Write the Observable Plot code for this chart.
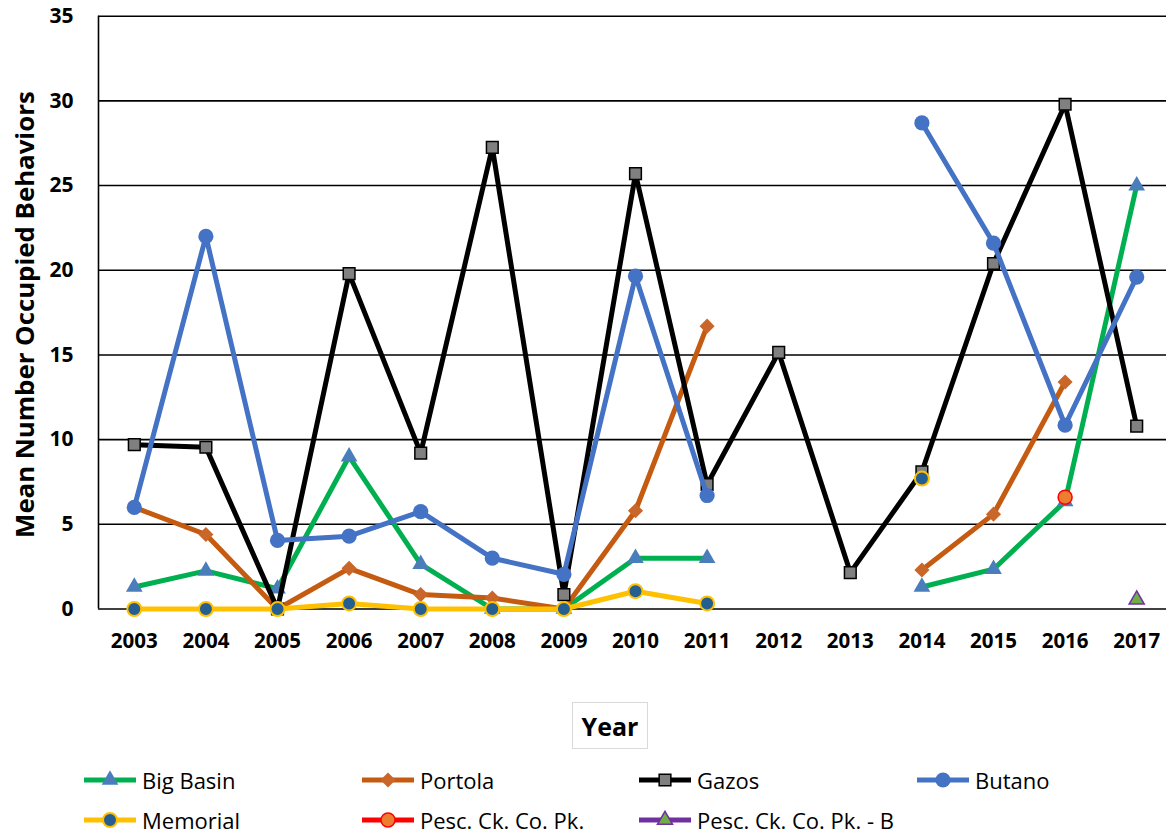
<!DOCTYPE html>
<html>
<head>
<meta charset="utf-8">
<script src="https://cdn.jsdelivr.net/npm/d3@7"></script>
<script src="https://cdn.jsdelivr.net/npm/@observablehq/plot@0.6"></script>
<style>
  html, body { margin: 0; padding: 0; background: #fff; }
  #wrap { position: relative; width: 1166px; height: 836px; overflow: hidden; font-family: "Open Sans", sans-serif; }
  #chart { position: absolute; left: 0; top: 0; }
  #xtitle { position: absolute; left: 572px; top: 702px; width: 74px; height: 45px; border: 1.5px solid #d9d9d9;
    font: 700 25px "Open Sans", sans-serif; color: #000; display: flex; align-items: center; justify-content: center; box-sizing: content-box; }
  .leg { position: absolute; display: flex; align-items: center; height: 30px; font: 400 22px "Open Sans", sans-serif; color: #000; white-space: nowrap; }
  .leg svg { margin-right: 6px; }
</style>
</head>
<body>
<div id="wrap">
  <div id="chart"></div>
  <div id="xtitle">Year</div>
</div>
<script>
const years = [2003, 2004, 2005, 2006, 2007, 2008, 2009, 2010, 2011, 2012, 2013, 2014, 2015, 2016, 2017];
const yTicks = [0, 5, 10, 15, 20, 25, 30, 35];

const bigBasin = [1.3, 2.25, 1.2, 9.0, 2.65, 0, 0, 3.0, 3.0, null, null, 1.3, 2.35, 6.35, 25.0];
const portola  = [6.0, 4.4, 0, 2.4, 0.85, 0.65, 0, 5.8, 16.7, null, null, 2.3, 5.6, 13.4, null];
const gazos    = [9.7, 9.55, 0, 19.8, 9.2, 27.25, 0.85, 25.7, 7.35, 15.15, 2.15, 8.1, 20.4, 29.8, 10.8];
const butano   = [6.0, 22.0, 4.05, 4.3, 5.75, 3.0, 2.05, 19.65, 6.7, null, null, 28.7, 21.6, 10.85, 19.6];
const memorial = [0, 0, 0, 0.33, 0, 0, 0, 1.05, 0.33, null, null, 7.7, null, null, null];
const pescCk   = [null, null, null, null, null, null, null, null, null, null, null, null, null, 6.6, null];
const pescCkB  = [null, null, null, null, null, null, null, null, null, null, null, null, null, null, 0.55];

const seriesNames = ["Big Basin", "Portola", "Gazos", "Butano", "Memorial", "Pesc. Ck. Co. Pk.", "Pesc. Ck. Co. Pk. - B"];
const seriesValues = [bigBasin, portola, gazos, butano, memorial, pescCk, pescCkB];

const styles = [
  {line: "#00B050", symbol: "triangle", r: 6.2, fill: "#4A7EBB", stroke: "none", sw: 0},
  {line: "#C55A11", symbol: "diamond2", r: 6.8, fill: "#C9662A", stroke: "none", sw: 0},
  {line: "#000000", symbol: "square", r: 6.6, fill: "#808080", stroke: "#000000", sw: 1.5},
  {line: "#4472C4", symbol: "circle", r: 7.6, fill: "#4472C4", stroke: "none", sw: 0},
  {line: "#FFC000", symbol: "circle", r: 7, fill: "#255E91", stroke: "#FFC000", sw: 2},
  {line: "#FF0000", symbol: "circle", r: 7, fill: "#ED7D31", stroke: "#FF0000", sw: 1.5},
  {line: "#7030A0", symbol: "triangle", r: 5.6, fill: "#70AD47", stroke: "#7030A0", sw: 1.5}
];

const seriesMarks = [];
seriesValues.forEach((vals, k) => {
  const data = years.map((yr, i) => ({year: yr, v: vals[i]}));
  const st = styles[k];
  seriesMarks.push(Plot.line(data, {x: "year", y: "v", stroke: st.line, strokeWidth: 5, strokeLinejoin: "round", strokeLinecap: "butt"}));
  seriesMarks.push(Plot.dot(data.filter(d => d.v != null), {x: "year", y: "v", symbol: () => st.symbol, r: st.r, fill: st.fill, stroke: st.stroke, strokeWidth: st.sw}));
});

const chart = Plot.plot({
  width: 1166,
  height: 665,
  marginLeft: 98,
  marginRight: 0,
  marginTop: 15.7,
  marginBottom: 56.5,
  style: {background: "#fff", overflow: "visible"},
  x: {domain: [2002.5, 2017.5], range: [98, 1172]},
  y: {domain: [0, 35], range: [608.5, 15.7]},
  symbol: {type: "identity"},
  marks: [
    Plot.ruleY(yTicks, {stroke: "#000", strokeWidth: 1.6}),
    Plot.ruleX([2002.5], {stroke: "#000", strokeWidth: 1.6}),
    Plot.axisY(yTicks, {tickSize: 0, tickPadding: 25, fontSize: 21, fontWeight: 700, fontFamily: "Open Sans", label: null, tickFormat: d => String(d)}),
    Plot.axisX(years, {tickSize: 0, tickPadding: 24.5, fontSize: 20.5, fontWeight: 700, fontFamily: "Open Sans", label: null, tickFormat: d => String(d)}),
    Plot.text(["Mean Number Occupied Behaviors"], {frameAnchor: "left", textAnchor: "middle", lineAnchor: "middle", dx: -73, dy: 2, rotate: -90, fontSize: 25.8, fontWeight: 700, fontFamily: "Open Sans", fill: "#000"}),
    ...seriesMarks
  ]
});
document.getElementById("chart").appendChild(chart);

// Legend
const wrap = document.getElementById("wrap");
const legPos = [[84, 781.7], [362, 781.7], [639, 781.7], [917, 781.7], [84, 821.7], [362, 821.7], [639, 821.7]];
seriesNames.forEach((name, k) => {
  const st = styles[k];
  const div = document.createElement("div");
  div.className = "leg";
  div.style.left = legPos[k][0] + "px";
  div.style.top = (legPos[k][1] - 16.5) + "px";
  const svg = d3.create("svg").attr("width", 52).attr("height", 20);
  svg.append("line").attr("x1", 0).attr("x2", 52).attr("y1", 10).attr("y2", 10)
    .attr("stroke", st.line).attr("stroke-width", 5);
  const symMap = {triangle: d3.symbolTriangle, diamond2: d3.symbolDiamond2, square: d3.symbolSquare, circle: d3.symbolCircle};
  svg.append("path").attr("transform", "translate(26,10)")
    .attr("d", d3.symbol(symMap[st.symbol], Math.PI * st.r * st.r)())
    .attr("fill", st.fill).attr("stroke", st.stroke).attr("stroke-width", st.sw);
  div.appendChild(svg.node());
  const span = document.createElement("span");
  span.textContent = name;
  div.appendChild(span);
  wrap.appendChild(div);
});
</script>
</body>
</html>
